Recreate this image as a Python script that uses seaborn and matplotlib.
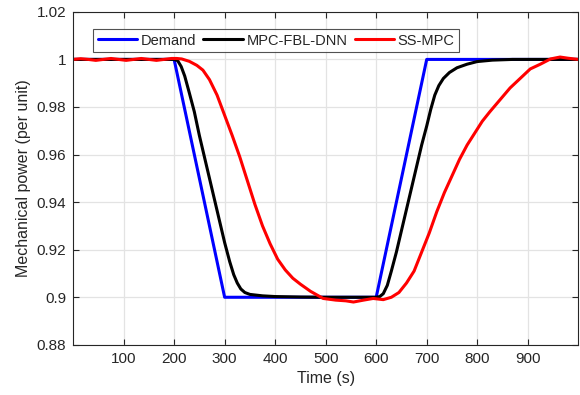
import numpy as np
import pandas as pd
import matplotlib
matplotlib.use("Agg")
import matplotlib.pyplot as plt
import seaborn as sns

# Demand
demand_t = [0, 200, 300, 600, 700, 1000]
demand_v = [1.0, 1.0, 0.9, 0.9, 1.0, 1.0]

# MPC-FBL-DNN
fbl_t = [0, 100, 200, 207, 214, 221, 230, 240, 250, 260, 270, 280, 290, 300, 310, 318, 325, 332, 340,
         350, 375, 400, 450, 500, 600, 607, 614, 622, 630, 640, 650, 660, 670, 680, 690, 700, 708, 716,
         724, 733, 745, 760, 780, 800, 830, 870, 1000]
fbl_v = [1.0, 1.0, 1.0, 0.9995, 0.997, 0.993, 0.986, 0.978, 0.968, 0.959, 0.950, 0.941, 0.932, 0.923,
         0.915, 0.9095, 0.906, 0.9035, 0.902, 0.9012, 0.9006, 0.9003, 0.9001, 0.9, 0.9, 0.9003, 0.9015,
         0.905, 0.911, 0.919, 0.928, 0.937, 0.946, 0.955, 0.964, 0.972, 0.979, 0.985, 0.989, 0.992, 0.9945,
         0.9965, 0.998, 0.9991, 0.9997, 1.0, 1.0]

# SS-MPC
ss_t = [0, 15, 30, 45, 60, 75, 90, 105, 120, 135, 150, 165, 180, 195, 205, 215, 230, 245, 257, 270, 285,
        300, 315, 330, 345, 360, 375, 390, 405, 420, 435, 450, 470, 495, 520, 540, 555, 575, 594, 614, 630,
        645, 660, 675, 690, 705, 720, 735, 750, 765, 780, 795, 810, 825, 845, 865, 885, 905, 925, 945, 964,
        980, 1000]
ss_v = [1.0, 1.0003, 1.0, 0.9996, 1.0, 1.0004, 1.0, 0.9996, 1.0, 1.0004, 1.0, 0.9996, 1.0, 1.0004, 1.0004,
        1.0002, 0.9992, 0.9975, 0.9955, 0.9915, 0.985, 0.9765, 0.968, 0.959, 0.949, 0.939, 0.930, 0.9225,
        0.916, 0.9115, 0.908, 0.9055, 0.9025, 0.8995, 0.8988, 0.8985, 0.898, 0.8988, 0.8995, 0.899, 0.9,
        0.902, 0.906, 0.911, 0.919, 0.927, 0.936, 0.944, 0.951, 0.958, 0.964, 0.969, 0.974, 0.978, 0.983,
        0.988, 0.992, 0.996, 0.998, 1.0002, 1.001, 1.0005, 1.0]

ytick_vals = [0.88, 0.9, 0.92, 0.94, 0.96, 0.98, 1.0, 1.02]
ytick_labels = ["0.88", "0.9", "0.92", "0.94", "0.96", "0.98", "1", "1.02"]
xtick_vals = [100, 200, 300, 400, 500, 600, 700, 800, 900]

sns.set_style("whitegrid")
plt.rcParams['font.family'] = ['Liberation Sans', 'DejaVu Sans']

df = pd.concat([
    pd.DataFrame({"t": demand_t, "v": demand_v, "s": "Demand"}),
    pd.DataFrame({"t": fbl_t, "v": fbl_v, "s": "MPC-FBL-DNN"}),
    pd.DataFrame({"t": ss_t, "v": ss_v, "s": "SS-MPC"}),
])

fig = plt.figure(figsize=(5.8, 3.95), dpi=100)
ax = fig.add_axes([0.126, 0.127, 0.871, 0.843])
sns.lineplot(data=df, x="t", y="v", hue="s",
             palette={"Demand": "#0000ff", "MPC-FBL-DNN": "#000000", "SS-MPC": "#ff0000"},
             estimator=None, sort=False, linewidth=2.2, ax=ax)
for ln in ax.get_lines():
    ln.set_solid_joinstyle("round")

ax.set_xlim(0, 1000)
ax.set_ylim(0.88, 1.02)
ax.set_xticks(xtick_vals)
ax.set_xticklabels([str(v) for v in xtick_vals])
ax.set_yticks(ytick_vals)
ax.set_yticklabels(ytick_labels)
ax.grid(True, color="#e3e3e3", linewidth=0.9)
for s in ax.spines.values():
    s.set_color("#262626")
    s.set_linewidth(0.8)
ax.tick_params(direction="in", length=4, width=0.8, colors="#262626", labelsize=11,
               top=True, right=True, bottom=True, left=True, labelcolor="#262626", pad=5)
ax.set_xlabel("Time (s)", fontsize=11.5, color="#262626")
ax.set_ylabel("Mechanical power (per unit)", fontsize=11.5, color="#262626")

leg = ax.legend(loc="upper left", bbox_to_anchor=(0.04, 0.948), ncol=3, fontsize=10.5, frameon=True,
                fancybox=False, edgecolor="#262626", handlelength=2.7, handletextpad=0.25, columnspacing=0.5,
                borderpad=0.3, borderaxespad=0)
leg.get_frame().set_linewidth(0.8)
for line in leg.get_lines():
    line.set_linewidth(2.2)

fig.savefig("out.png", dpi=100)
